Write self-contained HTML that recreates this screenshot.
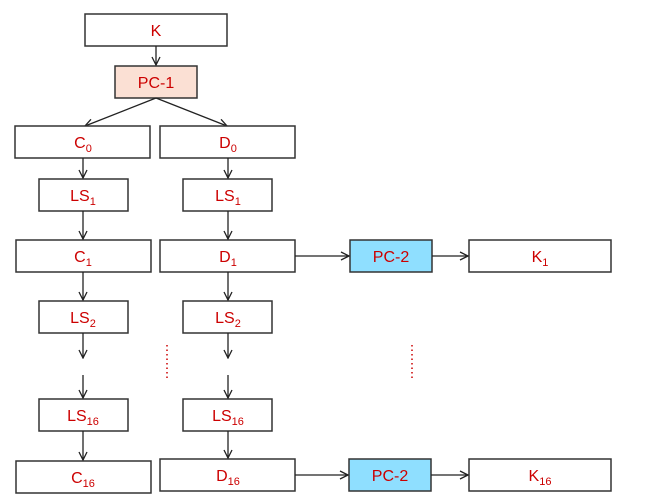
<!DOCTYPE html>
<html><head><style>
html,body{margin:0;padding:0;background:#fff;width:648px;height:504px;overflow:hidden}
text{font-family:"Liberation Sans",sans-serif;font-size:16px;fill:#cc0000;text-anchor:middle}
tspan.s{font-size:11px}
rect{stroke:#333;stroke-width:1.5;fill:#fff}
line{stroke:#222;stroke-width:1.3}
polyline{stroke:#222;stroke-width:1.3;fill:none}
</style></head><body>
<svg width="648" height="504" viewBox="0 0 648 504">
<defs><marker id="a" markerWidth="10" markerHeight="10" refX="9" refY="5" orient="auto" markerUnits="userSpaceOnUse"><polyline points="1,1 9,5 1,9"/></marker></defs>
<rect x="85" y="14" width="142" height="32"/><text x="156" y="36">K</text>
<rect x="115" y="66" width="82" height="32" style="fill:#fbe0d4"/><text x="156" y="88">PC-1</text>
<line x1="156" y1="46" x2="156" y2="65" marker-end="url(#a)"/>
<line x1="156" y1="98" x2="85" y2="126" marker-end="url(#a)"/>
<line x1="156" y1="98" x2="227" y2="126" marker-end="url(#a)"/>
<rect x="15" y="126" width="135" height="32"/><text x="83" y="148">C<tspan class="s" dy="4">0</tspan></text>
<rect x="160" y="126" width="135" height="32"/><text x="228" y="148">D<tspan class="s" dy="4">0</tspan></text>
<rect x="39" y="179" width="89" height="32"/><text x="83" y="201">LS<tspan class="s" dy="4">1</tspan></text>
<rect x="183" y="179" width="89" height="32"/><text x="228" y="201">LS<tspan class="s" dy="4">1</tspan></text>
<rect x="16" y="240" width="135" height="32"/><text x="83" y="262">C<tspan class="s" dy="4">1</tspan></text>
<rect x="160" y="240" width="135" height="32"/><text x="228" y="262">D<tspan class="s" dy="4">1</tspan></text>
<rect x="350" y="240" width="82" height="32" style="fill:#8fdfff"/><text x="391" y="262">PC-2</text>
<rect x="469" y="240" width="142" height="32"/><text x="540" y="262">K<tspan class="s" dy="4">1</tspan></text>
<line x1="295" y1="256" x2="349" y2="256" marker-end="url(#a)"/>
<line x1="432" y1="256" x2="468" y2="256" marker-end="url(#a)"/>
<rect x="39" y="301" width="89" height="32"/><text x="83" y="323">LS<tspan class="s" dy="4">2</tspan></text>
<rect x="183" y="301" width="89" height="32"/><text x="228" y="323">LS<tspan class="s" dy="4">2</tspan></text>
<rect x="39" y="399" width="89" height="32"/><text x="83" y="421">LS<tspan class="s" dy="4">16</tspan></text>
<rect x="183" y="399" width="89" height="32"/><text x="228" y="421">LS<tspan class="s" dy="4">16</tspan></text>
<rect x="16" y="461" width="135" height="32"/><text x="83" y="483">C<tspan class="s" dy="4">16</tspan></text>
<rect x="160" y="459" width="135" height="32"/><text x="228" y="481">D<tspan class="s" dy="4">16</tspan></text>
<rect x="349" y="459" width="82" height="32" style="fill:#8fdfff"/><text x="390" y="481">PC-2</text>
<rect x="469" y="459" width="142" height="32"/><text x="540" y="481">K<tspan class="s" dy="4">16</tspan></text>
<line x1="295" y1="475" x2="348" y2="475" marker-end="url(#a)"/>
<line x1="431" y1="475" x2="468" y2="475" marker-end="url(#a)"/>
<g>
<line x1="83" y1="158" x2="83" y2="178" marker-end="url(#a)"/>
<line x1="228" y1="158" x2="228" y2="178" marker-end="url(#a)"/>
<line x1="83" y1="211" x2="83" y2="239" marker-end="url(#a)"/>
<line x1="228" y1="211" x2="228" y2="239" marker-end="url(#a)"/>
<line x1="83" y1="272" x2="83" y2="300" marker-end="url(#a)"/>
<line x1="228" y1="272" x2="228" y2="300" marker-end="url(#a)"/>
<line x1="83" y1="333" x2="83" y2="358" marker-end="url(#a)"/>
<line x1="228" y1="333" x2="228" y2="358" marker-end="url(#a)"/>
<line x1="83" y1="375" x2="83" y2="398" marker-end="url(#a)"/>
<line x1="228" y1="375" x2="228" y2="398" marker-end="url(#a)"/>
<line x1="83" y1="431" x2="83" y2="460" marker-end="url(#a)"/>
<line x1="228" y1="431" x2="228" y2="458" marker-end="url(#a)"/>
</g>
<line x1="167" y1="345" x2="167" y2="379" style="stroke:#cc0000;stroke-width:1.5;stroke-dasharray:1.5 3"/>
<line x1="412" y1="345" x2="412" y2="379" style="stroke:#cc0000;stroke-width:1.5;stroke-dasharray:1.5 3"/>
</svg>
</body></html>
